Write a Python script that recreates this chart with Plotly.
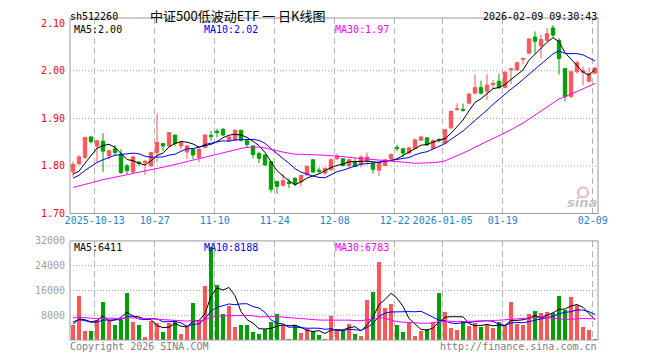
import plotly.graph_objects as go
import pandas as pd

# ---------------- data ----------------
holidays = ["2025-10-01", "2025-10-02", "2025-10-03", "2025-10-06", "2025-10-07",
            "2025-10-08", "2026-01-01", "2026-01-02"]
dates = [d.strftime("%Y-%m-%d") for d in pd.bdate_range("2025-09-29", "2026-02-09")
         if d.strftime("%Y-%m-%d") not in holidays]

open_ = [1.788, 1.804, 1.818, 1.861, 1.842, 1.852, 1.821, 1.836, 1.825, 1.800,
         1.787, 1.808, 1.807, 1.800, 1.828, 1.847, 1.842, 1.865, 1.842, 1.829,
         1.835, 1.818, 1.839, 1.864, 1.873, 1.877, 1.853, 1.854, 1.875, 1.853,
         1.842, 1.826, 1.823, 1.809, 1.767, 1.759, 1.766, 1.774, 1.767, 1.781,
         1.813, 1.791, 1.785, 1.792, 1.815, 1.815, 1.801, 1.808, 1.803, 1.810,
         1.805, 1.791, 1.801, 1.815, 1.839, 1.836, 1.827, 1.836, 1.854, 1.859,
         1.837, 1.856, 1.848, 1.880, 1.919, 1.919, 1.932, 1.953, 1.965, 1.957,
         1.971, 1.978, 1.965, 2.002, 2.002, 2.024, 2.037, 2.071, 2.052, 2.064,
         2.090, 2.064, 2.005, 1.946, 1.998, 1.997, 1.978, 1.995]
high = [1.809, 1.823, 1.861, 1.862, 1.854, 1.869, 1.834, 1.844, 1.835, 1.804,
        1.821, 1.810, 1.812, 1.829, 1.910, 1.848, 1.871, 1.865, 1.851, 1.843,
        1.837, 1.837, 1.866, 1.874, 1.878, 1.880, 1.862, 1.877, 1.876, 1.853,
        1.844, 1.830, 1.824, 1.810, 1.769, 1.783, 1.774, 1.776, 1.781, 1.800,
        1.813, 1.797, 1.797, 1.816, 1.826, 1.816, 1.815, 1.816, 1.822, 1.828,
        1.808, 1.808, 1.815, 1.826, 1.844, 1.837, 1.840, 1.857, 1.862, 1.860,
        1.856, 1.858, 1.878, 1.916, 1.932, 1.931, 1.953, 1.993, 1.979, 1.993,
        1.981, 1.994, 1.999, 2.005, 2.019, 2.026, 2.068, 2.083, 2.076, 2.090,
        2.096, 2.069, 2.005, 2.000, 2.021, 2.008, 2.007, 2.007]
low = [1.777, 1.804, 1.815, 1.847, 1.808, 1.787, 1.814, 1.822, 1.783, 1.783,
       1.785, 1.800, 1.781, 1.799, 1.808, 1.831, 1.841, 1.841, 1.835, 1.815,
       1.814, 1.808, 1.837, 1.853, 1.860, 1.863, 1.851, 1.852, 1.851, 1.838,
       1.816, 1.806, 1.801, 1.744, 1.742, 1.758, 1.753, 1.757, 1.756, 1.780,
       1.786, 1.783, 1.781, 1.790, 1.812, 1.799, 1.795, 1.797, 1.797, 1.803,
       1.784, 1.779, 1.799, 1.812, 1.831, 1.818, 1.826, 1.835, 1.852, 1.842,
       1.834, 1.849, 1.847, 1.878, 1.916, 1.914, 1.931, 1.951, 1.950, 1.939,
       1.962, 1.963, 1.963, 1.972, 2.000, 2.014, 2.036, 2.036, 2.026, 2.062,
       2.071, 1.992, 1.936, 1.943, 1.994, 1.969, 1.976, 1.994]
close = [1.803, 1.819, 1.860, 1.851, 1.853, 1.831, 1.832, 1.828, 1.786, 1.790,
         1.819, 1.805, 1.810, 1.828, 1.849, 1.842, 1.870, 1.847, 1.849, 1.842,
         1.823, 1.835, 1.865, 1.862, 1.870, 1.865, 1.861, 1.875, 1.854, 1.845,
         1.824, 1.816, 1.802, 1.751, 1.757, 1.769, 1.763, 1.762, 1.780, 1.799,
         1.787, 1.789, 1.795, 1.813, 1.821, 1.801, 1.813, 1.799, 1.819, 1.819,
         1.793, 1.807, 1.813, 1.824, 1.837, 1.827, 1.838, 1.855, 1.861, 1.844,
         1.853, 1.854, 1.876, 1.915, 1.920, 1.917, 1.951, 1.965, 1.953, 1.970,
         1.973, 1.964, 1.997, 2.004, 2.017, 2.026, 2.067, 2.062, 2.066, 2.078,
         2.075, 2.026, 1.946, 1.998, 2.017, 2.000, 1.994, 2.006]
volume = [4800, 14080, 2880, 2880, 6610, 12160, 6080, 4800, 6610, 15360,
          5760, 4800, 960, 6080, 5650, 2560, 5550, 6610, 1920, 4480,
          11840, 6610, 17600, 30190, 17920, 8320, 10880, 4160, 4800, 4800,
          2560, 1920, 3730, 5760, 8320, 4800, 320, 4800, 2240, 3520,
          2880, 1600, 320, 7790, 3730, 2880, 5120, 1920, 1280, 12800,
          15680, 25280, 10240, 11520, 4800, 2560, 5650, 1280, 2880, 3730,
          5760, 15360, 8960, 3840, 3200, 6080, 4480, 5440, 4160, 5010,
          3840, 5760, 4800, 12160, 5120, 4800, 8320, 9280, 8640, 8960,
          8640, 14080, 9600, 13760, 11200, 4160, 3200, 320]

# sessions before the visible window (estimated from where the MA lines start)
prior_close = [1.714, 1.755, 1.746, 1.748, 1.756, 1.757, 1.753, 1.711, 1.715, 1.744,
               1.730, 1.735, 1.753, 1.774, 1.748, 1.776, 1.753, 1.755, 1.748, 1.729,
               1.755, 1.760, 1.765, 1.770, 1.775, 1.790, 1.775, 1.770, 1.777]
prior_volume = [9200, 6500, 7800, 10400, 5600, 6900, 8800, 7200, 6100, 9500,
                8300, 5900, 7400, 10100, 6800, 7600, 8900, 6400, 7300, 9100,
                7200, 5900, 8100, 6400, 5500, 5600, 4300, 6200, 4700]

tick_dates = ["2025-10-13", "2025-10-27", "2025-11-10", "2025-11-24", "2025-12-08",
              "2025-12-22", "2026-01-05", "2026-01-19", "2026-02-09"]
tick_text = ["2025-10-13", "10-27", "11-10", "11-24", "12-08",
             "12-22", "2026-01-05", "01-19", "02-09"]
price_ticks = [1.70, 1.80, 1.90, 2.00, 2.10]
vol_ticks = [8000, 16000, 24000, 32000]

symbol = "sh512260"
title = "中证500低波动ETF 一 日K线图"
stamp = "2026-02-09 09:30:43"
price_ma_text = ["MA5:2.00", "MA10:2.02", "MA30:1.97"]
vol_ma_text = ["MA5:6411", "MA10:8188", "MA30:6783"]

# ---------------- derived ----------------
n = len(close)
xs = list(range(n))
npre = len(prior_close)
cs = pd.Series(prior_close + close)
vs = pd.Series(prior_volume + volume)
ma_p = {k: cs.rolling(k).mean().iloc[npre:].tolist() for k in (5, 10, 30)}
ma_v = {k: vs.rolling(k).mean().iloc[npre:].tolist() for k in (5, 10, 30)}

RED = "#ff5555"
GREEN = "#00a000"
ma_colors = {5: "#000000", 10: "#0000ff", 30: "#ff00ff"}
MONO = "DejaVu Sans Mono"

bar_colors = [RED if c >= o else GREEN for o, c in zip(open_, close)]
tick_pos = [dates.index(d) - 0.38 for d in tick_dates]

fig = go.Figure()
fig.add_trace(go.Candlestick(
    x=xs, open=open_, high=high, low=low, close=close,
    increasing=dict(line=dict(color=RED, width=1), fillcolor=RED),
    decreasing=dict(line=dict(color=GREEN, width=1), fillcolor=GREEN),
    whiskerwidth=0, xaxis="x", yaxis="y", showlegend=False, hoverinfo="skip"))
for k in (5, 10, 30):
    fig.add_trace(go.Scatter(x=xs, y=ma_p[k], mode="lines",
                             line=dict(color=ma_colors[k], width=1),
                             xaxis="x", yaxis="y", showlegend=False, hoverinfo="skip"))
fig.add_trace(go.Bar(x=xs, y=volume, marker=dict(color=bar_colors, line=dict(width=0)),
                     width=0.8, xaxis="x2", yaxis="y2", showlegend=False, hoverinfo="skip"))
for k in (5, 10, 30):
    fig.add_trace(go.Scatter(x=xs, y=ma_v[k], mode="lines",
                             line=dict(color=ma_colors[k], width=1),
                             xaxis="x2", yaxis="y2", showlegend=False, hoverinfo="skip"))

L, R, T, B = 70, 62, 15, 20
W, H = 660, 360
PW, PH = W - L - R, H - T - B


def px(xp):
    return (xp - L) / PW


def py(yp):
    return (H - B - yp) / PH


price_dom = [py(212.3), 1.0]
vol_dom = [0.0, py(240)]

grid_common = dict(showgrid=True, gridcolor="#b4b4b4", gridwidth=1, griddash="6px,4px",
                   zeroline=False, showline=False, ticks="", range=[-0.5, n - 0.5],
                   tickmode="array", tickvals=tick_pos, fixedrange=True)

fig.update_layout(
    width=W, height=H, margin=dict(l=L, r=R, t=T, b=B),
    paper_bgcolor="white", plot_bgcolor="white", boxgap=0.2, bargap=0,
    xaxis=dict(**grid_common, ticktext=tick_text, anchor="y", domain=[0, 1],
               tickangle=0, rangeslider=dict(visible=False),
               tickfont=dict(family=MONO, size=10, color="#1a86d0")),
    xaxis2=dict(**grid_common, ticktext=tick_text, anchor="y2", domain=[0, 1],
                showticklabels=False),
    yaxis=dict(domain=price_dom, range=[1.70, 2.111], tickmode="array",
               tickvals=price_ticks, ticktext=[f"{v:.2f}" for v in price_ticks],
               showgrid=False, zeroline=False, showline=False, ticks="",
               ticklabelstandoff=4, fixedrange=True,
               tickfont=dict(family=MONO, size=10, color="#ff0000")),
    yaxis2=dict(domain=vol_dom, range=[0, 32000], tickmode="array",
                tickvals=vol_ticks, ticktext=[str(v) for v in vol_ticks],
                showgrid=False, zeroline=False, showline=False, ticks="",
                ticklabelstandoff=4, fixedrange=True,
                tickfont=dict(family=MONO, size=10, color="#a0a0a0")),
)

shapes = []
for v in price_ticks[1:-1]:
    shapes.append(dict(type="line", xref="x domain", yref="y", x0=0, x1=1, y0=v, y1=v,
                       line=dict(color="#a8a8a8", width=1, dash="1px,2px"), layer="below"))
for v in vol_ticks[:-1]:
    shapes.append(dict(type="line", xref="x2 domain", yref="y2", x0=0, x1=1, y0=v, y1=v,
                       line=dict(color="#a8a8a8", width=1, dash="1px,2px"), layer="below"))
for ya in ("y", "y2"):
    shapes.append(dict(type="rect", xref="paper", yref=f"{ya} domain", x0=0, x1=1, y0=0, y1=1,
                       line=dict(color="#999999", width=1), fillcolor="rgba(0,0,0,0)"))
# sina watermark eye
shapes.append(dict(type="circle", xref="paper", yref="paper",
                   x0=px(578), x1=px(588), y0=py(196), y1=py(186),
                   line=dict(color="#f4b4b4", width=2), fillcolor="rgba(0,0,0,0)"))
fig.update_layout(shapes=shapes)

ann = []


def text(x, y, s, color="#000000", size=10, anchor="left", family=MONO):
    ann.append(dict(x=px(x), y=py(y), xref="paper", yref="paper", text=s,
                    showarrow=False, xanchor=anchor, yanchor="middle", borderpad=0,
                    font=dict(family=family, size=size, color=color)))


text(69, 13.5, symbol)
text(149, 12.5, title, size=13, family="Noto Sans CJK SC")
text(598, 13.5, stamp, anchor="right")
cols = ["#000000", "#0000ff", "#ff00ff"]
xs_lab = [73, 203, 333.5]
for s, c, xx in zip(price_ma_text, cols, xs_lab):
    text(xx, 27, s, color=c)
for s, c, xx in zip(vol_ma_text, cols, xs_lab):
    text(xx, 246.7, s, color=c)
text(69, 346.5, "Copyright 2026 SINA.COM", color="#808080")
text(598, 346.5, "http://finance.sina.com.cn", color="#808080", anchor="right")
text(598, 201, "<b><i>sina</i></b>", color="#c4c4c4", size=13, anchor="right",
     family="DejaVu Sans")
fig.update_layout(annotations=ann)

fig.write_html("out.html")
